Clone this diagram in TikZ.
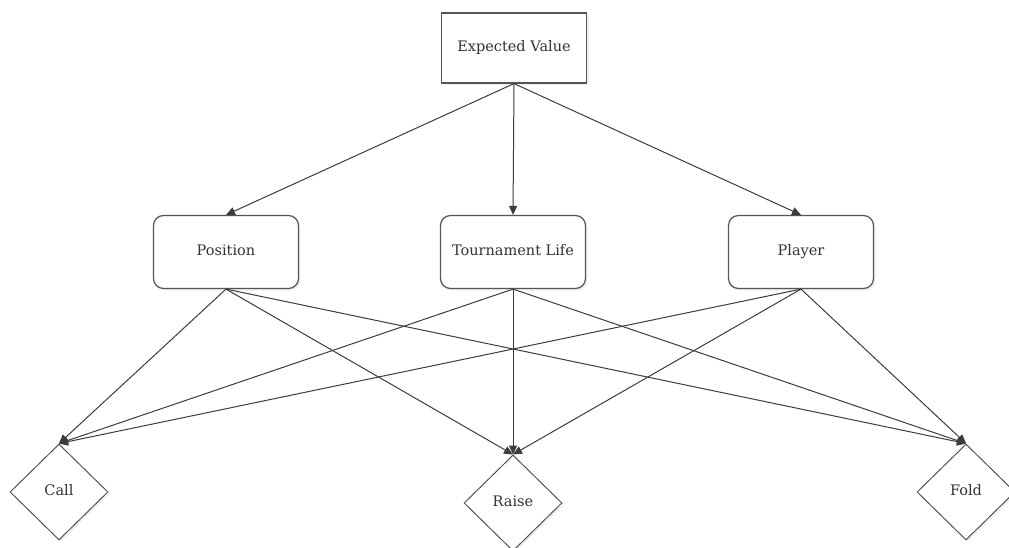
\documentclass[tikz,border=0pt]{standalone}
\usepackage{fontspec}
\setmainfont{DejaVu Serif}
\usetikzlibrary{shapes.geometric,arrows.meta,shadows}
\definecolor{edgegray}{RGB}{60,60,60}
\definecolor{boxgray}{RGB}{85,85,85}
\definecolor{textgray}{RGB}{50,50,50}
\begin{document}
\begin{tikzpicture}[x=1pt, y=-1pt,
  font=\fontsize{14.5}{16}\selectfont, text=textgray,
  topbox/.style={draw=boxgray, line width=1.2pt, fill=white, minimum width=145pt, minimum height=70pt, inner sep=0pt, text height=1.5ex, text depth=0.25ex, drop shadow={opacity=0.12, shadow xshift=2pt, shadow yshift=-2pt}},
  factorbox/.style={topbox, rounded corners=10pt, minimum width=145pt, minimum height=73pt},
  actionbox/.style={diamond, draw=boxgray, line width=1pt, fill=white, minimum width=98pt, minimum height=96pt, inner sep=0pt, text height=1.5ex, text depth=0.25ex, drop shadow={opacity=0.12, shadow xshift=2pt, shadow yshift=-2pt}},
  link/.style={draw=edgegray, line width=1pt, -{Triangle[length=9pt, width=8pt]}}]
 \useasboundingbox (0,0) rectangle (1009,548);

 \node[topbox] (ev) at (514,48) {Expected Value};

 \node[factorbox] (pos) at (226,252) {Position};
 \node[factorbox] (life) at (513,252) {Tournament Life};
 \node[factorbox] (player) at (801,252) {Player};

 \node[actionbox] (call) at (59,492) {Call};
 \node[actionbox] (raise) at (513,503) {Raise};
 \node[actionbox] (fold) at (966,492) {Fold};

 \draw[link] (ev.south) -- (pos.north);
 \draw[link] (ev.south) -- (life.north);
 \draw[link] (ev.south) -- (player.north);

 \foreach \src in {pos,life,player}
  \foreach \dst in {call,raise,fold}
   \draw[link] (\src.south) -- (\dst.north);
\end{tikzpicture}
\end{document}
